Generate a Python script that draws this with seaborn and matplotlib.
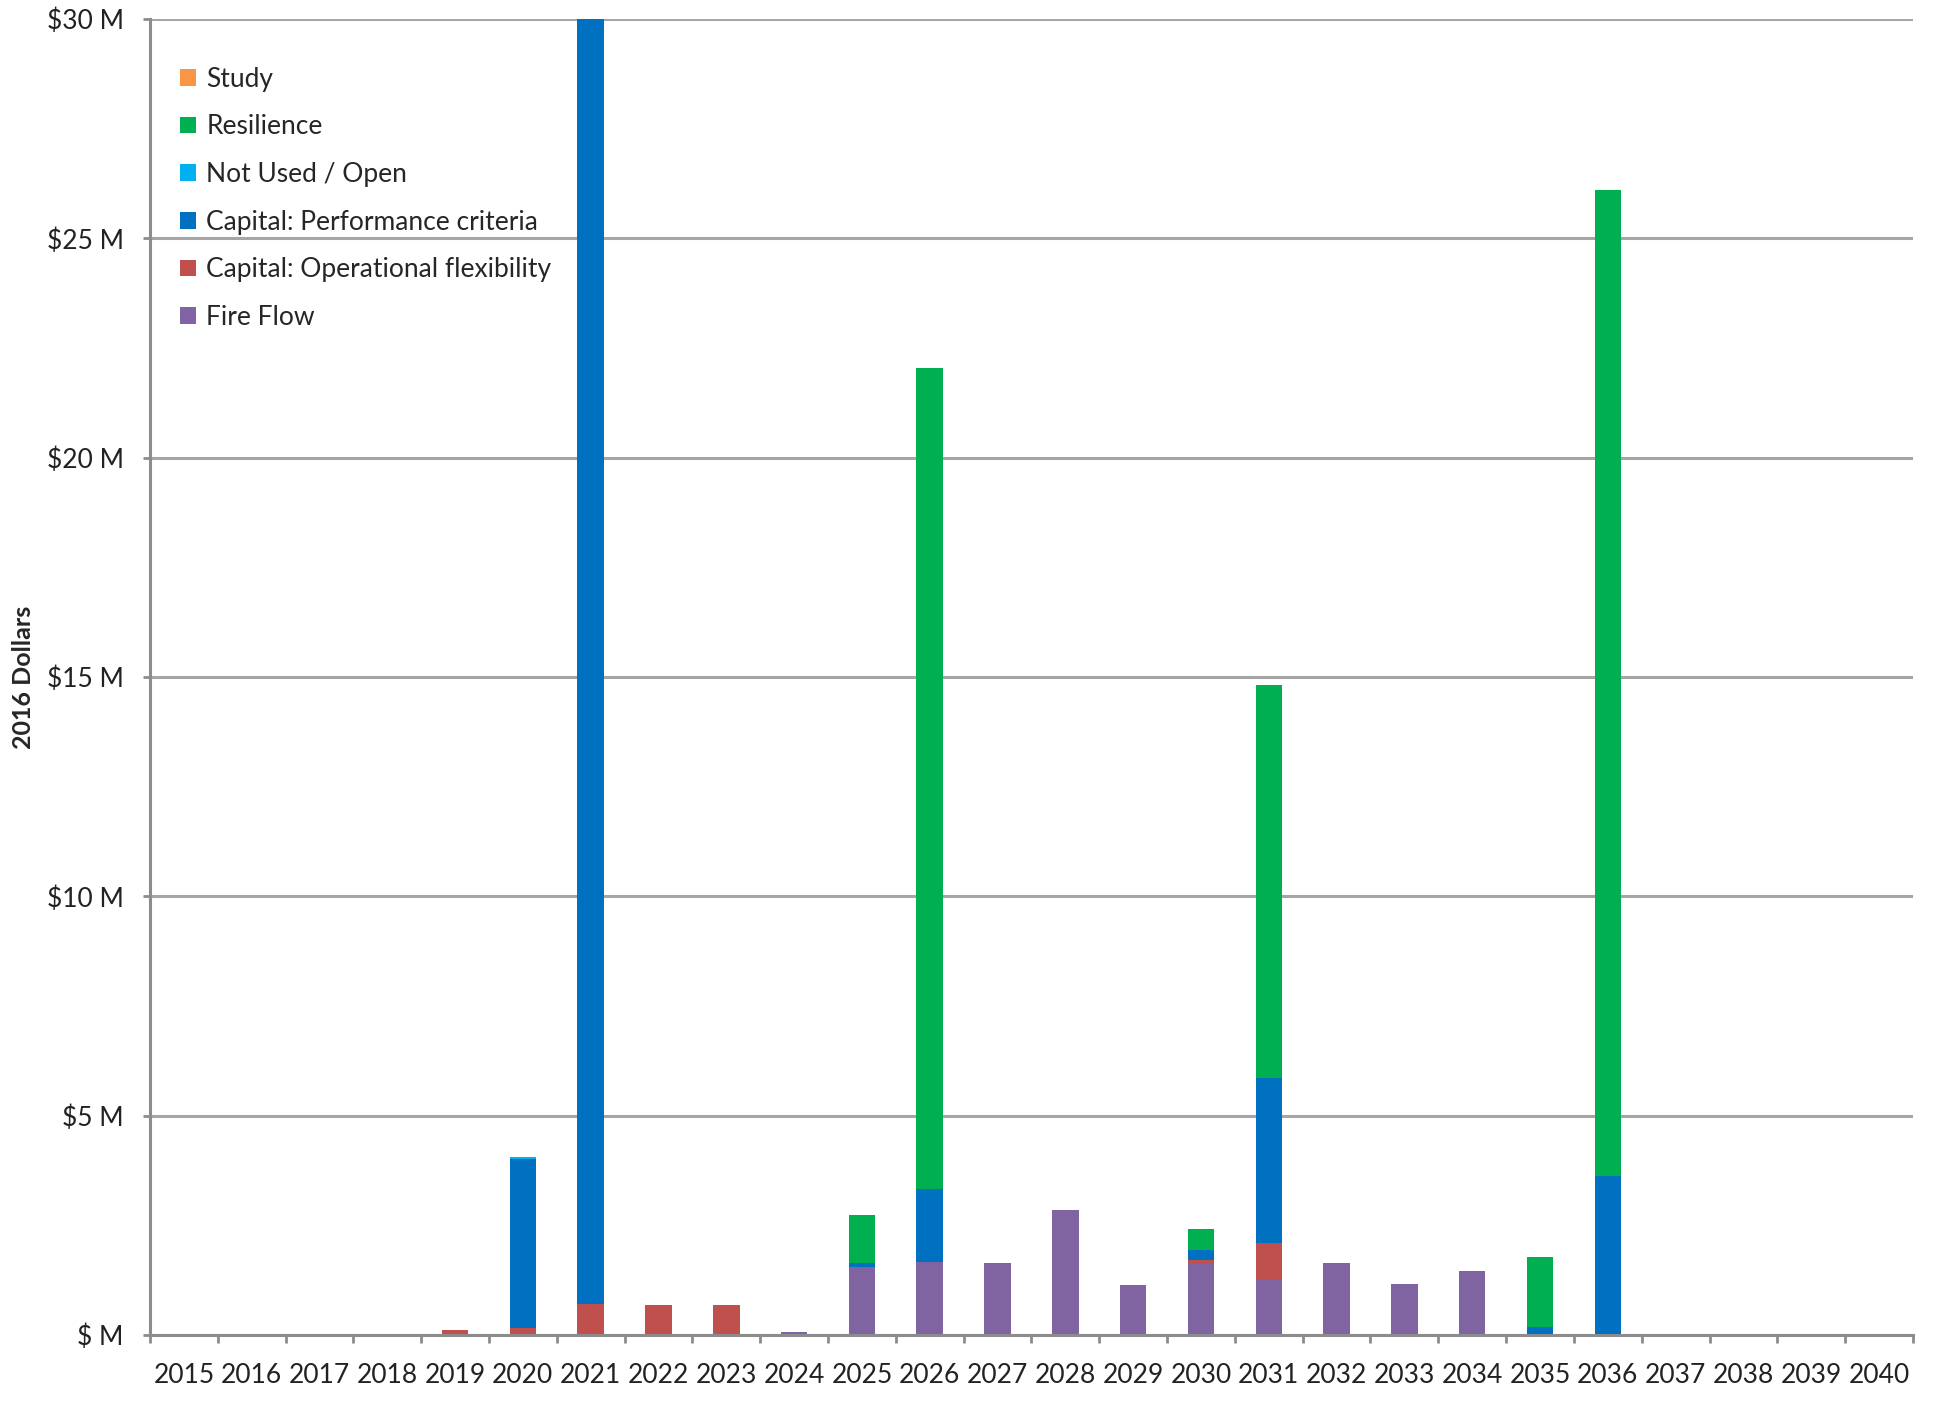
import numpy as np
import pandas as pd
import matplotlib
matplotlib.use("Agg")
import matplotlib.pyplot as plt
import seaborn as sns
from matplotlib.patches import Patch

years = [str(y) for y in range(2015, 2041)]
# values in $ millions, stacking order bottom -> top
fire_flow = [0, 0, 0, 0, 0, 0, 0, 0, 0, 0.08, 1.55, 1.66, 1.64, 2.85, 1.13, 1.64, 1.26, 1.64, 1.17, 1.46, 0, 0, 0, 0, 0, 0]
cap_operational = [0, 0, 0, 0, 0.12, 0.17, 0.70, 0.69, 0.68, 0, 0, 0, 0, 0, 0, 0.07, 0.83, 0, 0, 0, 0, 0, 0, 0, 0, 0]
cap_performance = [0, 0, 0, 0, 0, 3.85, 29.4, 0, 0, 0, 0.09, 1.66, 0, 0, 0, 0.22, 3.76, 0, 0, 0, 0.19, 3.63, 0, 0, 0, 0]
not_used = [0, 0, 0, 0, 0, 0.03, 0, 0, 0, 0, 0, 0, 0, 0, 0, 0, 0, 0, 0, 0, 0, 0, 0, 0, 0, 0]
resilience = [0, 0, 0, 0, 0, 0, 0, 0, 0, 0, 1.09, 18.73, 0, 0, 0, 0.49, 8.98, 0, 0, 0, 1.60, 22.48, 0, 0, 0, 0]
study = [0] * 26

series_names = ["Fire Flow", "Capital: Operational flexibility", "Capital: Performance criteria",
                "Not Used / Open", "Resilience", "Study"]
series_vals = [fire_flow, cap_operational, cap_performance, not_used, resilience, study]
colors = ["#8064A2", "#C0504D", "#0070C0", "#00B0F0", "#00B050", "#F79646"]
y_ticks = [0, 5, 10, 15, 20, 25, 30]
y_labels = ["$ M", "$5 M", "$10 M", "$15 M", "$20 M", "$25 M", "$30 M"]

sns.set_theme(style="white")
plt.rcParams["font.family"] = ["Lato", "DejaVu Sans"]

fig = plt.figure(figsize=(19.52, 14.15), dpi=100)
ax = fig.add_axes([0.0768, 0.0565, 0.9032, 0.930])

cum = np.cumsum(np.array(series_vals, dtype=float), axis=0)
# draw from top layer to bottom layer so lower layers overlay
for i in range(len(series_names) - 1, -1, -1):
    df = pd.DataFrame({"year": years, "value": cum[i]})
    sns.barplot(data=df, x="year", y="value", order=years, color=colors[i],
                width=0.39, saturation=1, linewidth=0, ax=ax, errorbar=None)

ax.set_xlim(-0.5, 25.5)
ax.set_ylim(0, 30)
ax.set_yticks(y_ticks)
ax.set_yticklabels(y_labels, fontsize=19)
ax.yaxis.grid(True, color="#A6A6A6", linewidth=2.2)
ax.set_axisbelow(True)
ax.set_xticks(range(len(years)))
ax.set_xticklabels(years, fontsize=19)
ax.set_xticks(np.arange(-0.5, 26, 1), minor=True)
ax.tick_params(axis="x", which="both", bottom=True)
ax.tick_params(axis="x", which="major", length=0, pad=20, labelcolor="#222222")
ax.tick_params(axis="x", which="minor", length=6, width=2, color="#8C8C8C", direction="out")
ax.tick_params(axis="y", which="major", left=True, length=5, width=2, pad=14,
               color="#8C8C8C", labelcolor="#222222", direction="out")
for s in ["top", "right"]:
    ax.spines[s].set_visible(False)
for s in ["left", "bottom"]:
    ax.spines[s].set_color("#8C8C8C")
    ax.spines[s].set_linewidth(2.2)
ax.set_xlabel("")
ax.set_ylabel("2016 Dollars", fontsize=18, fontweight="bold", labelpad=8)

handles = [Patch(facecolor=colors[i], edgecolor="none", label=series_names[i])
           for i in range(len(series_names) - 1, -1, -1)]
leg = ax.legend(handles=handles, loc="upper left", bbox_to_anchor=(0.011, 0.972), frameon=False,
                fontsize=19, handlelength=0.6, handleheight=0.6, handletextpad=0.4,
                labelspacing=0.86, borderaxespad=0)

fig.savefig("out.png", dpi=100)
